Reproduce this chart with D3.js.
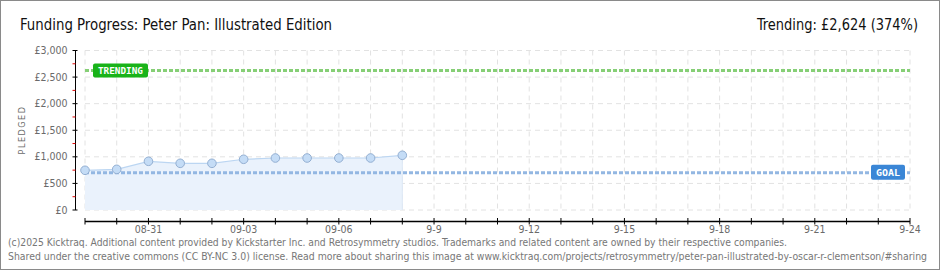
<!DOCTYPE html>
<html>
<head>
<meta charset="utf-8">
<script src="https://cdn.jsdelivr.net/npm/d3@7"></script>
<style>
  body { margin: 0; background: #fff; }
  svg { display: block; font-family: "DejaVu Sans", sans-serif; font-stretch: condensed; }
</style>
</head>
<body>
<div id="chart"></div>
<script>
// dates and pledged amounts (GBP)
var days = ['2025-08-29', '2025-08-30', '2025-08-31', '2025-09-01', '2025-09-02', '2025-09-03',
  '2025-09-04', '2025-09-05', '2025-09-06', '2025-09-07', '2025-09-08'];
var pledged = [747, 765, 916, 878, 878, 954, 978, 978, 978, 978, 1029];
var goal = 700;
var trending = 2624;
var yTicks = [0, 500, 1000, 1500, 2000, 2500, 3000];
var xStart = '2025-08-29', xEnd = '2025-09-24';
var labelDays = ['2025-08-31', '2025-09-03', '2025-09-06'];
var title = 'Funding Progress: Peter Pan: Illustrated Edition';
var trendText = 'Trending: £2,624 (374%)';
var footer = [
  '(c)2025 Kicktraq. Additional content provided by Kickstarter Inc. and Retrosymmetry studios. Trademarks and related content are owned by their respective companies.',
  'Shared under the creative commons (CC BY-NC 3.0) license. Read more about sharing this image at www.kicktraq.com/projects/retrosymmetry/peter-pan-illustrated-by-oscar-r-clementson/#sharing'
];

var W = 940, H = 270;
var parse = d3.timeParse('%Y-%m-%d');
var data = days.map(function(d, i) { return {date: parse(d), v: pledged[i]}; });

var svg = d3.select('#chart').append('svg').attr('width', W).attr('height', H);

svg.append('rect').attr('x', 0.5).attr('y', 0.5).attr('width', W - 1).attr('height', H - 1)
  .attr('fill', '#fff').attr('stroke', '#8a8a8a').attr('stroke-width', 1);

var x = d3.scaleTime().domain([parse(xStart), parse(xEnd)]).range([85, 910]);
var y = d3.scaleLinear().domain([0, 3000]).range([210, 50.5]);

// grid
var allDays = d3.timeDay.range(parse(xStart), d3.timeDay.offset(parse(xEnd), 1));
svg.append('g').selectAll('line').data(allDays).enter().append('line')
  .attr('x1', function(d) { return x(d); }).attr('x2', function(d) { return x(d); })
  .attr('y1', y(3000)).attr('y2', y(0))
  .attr('stroke', '#e2e2e2').attr('stroke-dasharray', '5,4');
svg.append('g').selectAll('line').data(yTicks).enter().append('line')
  .attr('x1', 85).attr('x2', 910)
  .attr('y1', function(d) { return y(d); }).attr('y2', function(d) { return y(d); })
  .attr('stroke', '#e2e2e2').attr('stroke-dasharray', '5,4');

// area + line
svg.append('path').datum(data)
  .attr('d', d3.area().x(function(d) { return x(d.date); }).y0(y(0)).y1(function(d) { return y(d.v); }))
  .attr('fill', '#eaf2fc');
svg.append('path').datum(data)
  .attr('d', d3.line().x(function(d) { return x(d.date); }).y(function(d) { return y(d.v); }))
  .attr('fill', 'none').attr('stroke', '#bcd6f2').attr('stroke-width', 1.2);
svg.append('line')
  .attr('x1', x(data[data.length - 1].date)).attr('x2', x(data[data.length - 1].date))
  .attr('y1', y(pledged[pledged.length - 1])).attr('y2', y(0))
  .attr('stroke', '#dde8f6');

// goal and trending lines
svg.append('line').attr('x1', 85).attr('x2', 910).attr('y1', y(goal)).attr('y2', y(goal))
  .attr('stroke', '#93b7e2').attr('stroke-width', 3).attr('stroke-dasharray', '4,2');
svg.append('line').attr('x1', 85).attr('x2', 910).attr('y1', y(trending)).attr('y2', y(trending))
  .attr('stroke', '#86cf76').attr('stroke-width', 3).attr('stroke-dasharray', '4,2');

// points
svg.append('g').selectAll('circle').data(data).enter().append('circle')
  .attr('cx', function(d) { return x(d.date); }).attr('cy', function(d) { return y(d.v); })
  .attr('r', 4.3).attr('fill', '#c4dcf6').attr('stroke', '#93afd2').attr('stroke-width', 1);

// badges
function badge(bx, by, w, h, fill, txt) {
  svg.append('rect').attr('x', bx).attr('y', by).attr('width', w).attr('height', h)
    .attr('rx', 2).attr('fill', fill);
  svg.append('text').attr('x', bx + w / 2).attr('y', by + h - 3.5).attr('fill', '#fff')
    .attr('text-anchor', 'middle')
    .attr('font-family', 'DejaVu Sans Mono, monospace').attr('font-size', 9.5).attr('font-weight', 'bold')
    .attr('textLength', w - 10).attr('lengthAdjust', 'spacingAndGlyphs').text(txt);
}
badge(93, y(trending) - 7, 55, 14, '#19b319', 'TRENDING');
badge(871, y(goal) - 8, 34, 15, '#3a86d6', 'GOAL');

// y axis
var yAxis = svg.append('g').attr('transform', 'translate(75.5,0)');
yAxis.append('line').attr('y1', y(3000)).attr('y2', 210).attr('stroke', '#000');
yAxis.selectAll('.maj').data(yTicks).enter().append('line')
  .attr('x1', -3).attr('x2', 2).attr('y1', function(d) { return y(d); }).attr('y2', function(d) { return y(d); })
  .attr('stroke', '#000');
yAxis.selectAll('.min').data(yTicks.slice(0, -1)).enter().append('line')
  .attr('x1', -3).attr('x2', 0).attr('y1', function(d) { return y(d + 250); }).attr('y2', function(d) { return y(d + 250); })
  .attr('stroke', '#e00000');
yAxis.selectAll('text').data(yTicks).enter().append('text')
  .attr('x', -8).attr('y', function(d) { return y(d) + 3.5; })
  .attr('text-anchor', 'end').attr('font-size', 10.5).attr('fill', '#6a6a6a')
  .text(function(d) { return '£' + d3.format(',')(d); });
svg.append('text').attr('transform', 'translate(25,130) rotate(-90)')
  .attr('text-anchor', 'middle').attr('font-size', 9).attr('letter-spacing', 1.5).attr('fill', '#6a6a6a')
  .text('PLEDGED');

// x axis
var xAxis = svg.append('g').attr('transform', 'translate(0,221.5)');
xAxis.append('line').attr('x1', 85).attr('x2', 910).attr('stroke', '#000').attr('stroke-width', 1.5);
xAxis.selectAll('line.t').data(allDays).enter().append('line')
  .attr('x1', function(d) { return x(d); }).attr('x2', function(d) { return x(d); })
  .attr('y1', -3.5).attr('y2', 3).attr('stroke', '#000');
var labelTicks = d3.timeDay.range(parse('2025-08-31'), d3.timeDay.offset(parse(xEnd), 1), 3);
xAxis.selectAll('text').data(labelTicks).enter().append('text')
  .attr('x', function(d) { return x(d); }).attr('y', 11)
  .attr('text-anchor', 'middle').attr('font-size', 10.5).attr('fill', '#6a6a6a')
  .text(function(d) {
    var s = d3.timeFormat('%Y-%m-%d')(d);
    return labelDays.indexOf(s) >= 0 ? d3.timeFormat('%m-%d')(d) : d3.timeFormat('%-m-%-d')(d);
  });

// titles
svg.append('text').attr('x', 20).attr('y', 30).attr('font-size', 16.5).attr('fill', '#111')
  .attr('textLength', 312).attr('lengthAdjust', 'spacingAndGlyphs').text(title);
svg.append('text').attr('x', 918).attr('y', 30).attr('font-size', 15.5)
  .attr('text-anchor', 'end').attr('fill', '#111')
  .attr('textLength', 161).attr('lengthAdjust', 'spacingAndGlyphs').text(trendText);

// footer
var footLen = [779, 919];
svg.selectAll('.foot').data(footer).enter().append('text')
  .attr('x', 8).attr('y', function(d, i) { return 246 + i * 13.5; })
  .attr('font-size', 10.5).attr('fill', '#777')
  .attr('textLength', function(d, i) { return footLen[i]; }).attr('lengthAdjust', 'spacingAndGlyphs')
  .text(function(d) { return d; });
</script>
</body>
</html>
